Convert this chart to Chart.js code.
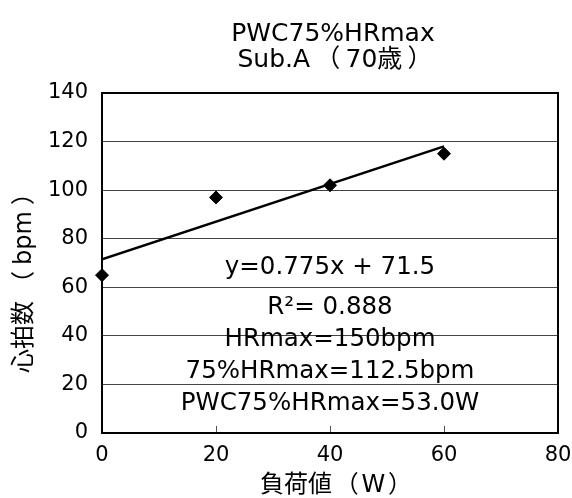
<!DOCTYPE html>
<html>
<head>
<meta charset="utf-8">
<script src="https://cdn.jsdelivr.net/npm/chart.js@4"></script>
<style>
  html, body { margin: 0; padding: 0; background: #fff; }
  #wrap { width: 572px; height: 498px; }
</style>
</head>
<body>
<div id="wrap"><canvas id="c" width="572" height="498"></canvas></div>
<script>
const loads = [0, 20, 40, 60];
const heartRates = [65, 97, 102, 115];
const slope = 0.775;
const intercept = 71.5;
const trendRange = [0, 60];
const titleLine1 = "PWC75%HRmax";
const titleLine2 = ["Sub.A", "（", "70歳", "）"];
const yTitle = ["心拍数", "（", "bpm", "）"];
const xTitle = ["負荷値", "（", "W", "）"];
const notes = ["y=0.775x + 71.5", "R²= 0.888", "HRmax=150bpm", "75%HRmax=112.5bpm", "PWC75%HRmax=53.0W"];
const noteX = 40;
const noteY = [68, 51.6, 38.4, 25.3, 12.1];

const FONT = "'DejaVu Sans', 'Noto Sans CJK JP', sans-serif";

// draw text pieces spread so the whole thing is `total` px wide, centred on cx
function drawParts(ctx, parts, cx, y, total) {
    const widths = parts.map(p => ctx.measureText(p).width);
    const sum = widths.reduce((s, w) => s + w, 0);
    const gap = parts.length > 1 ? Math.max(0, (total - sum) / (parts.length - 1)) : 0;
    let x = cx - (sum + gap * (parts.length - 1)) / 2;
    ctx.textAlign = "left";
    parts.forEach((p, i) => {
        ctx.fillText(p, x, y);
        x += widths[i] + gap;
    });
    ctx.textAlign = "center";
}

const boxPlugin = {
    id: "box",
    afterDatasetsDraw(chart) {
        const { ctx, chartArea: a, scales } = chart;
        ctx.save();
        // short inner ticks on x axis
        ctx.strokeStyle = "#555";
        ctx.lineWidth = 1;
        [20, 40, 60].forEach(v => {
            const px = Math.round(scales.x.getPixelForValue(v)) + 0.5;
            ctx.beginPath();
            ctx.moveTo(px, a.bottom);
            ctx.lineTo(px, a.bottom - 7);
            ctx.stroke();
        });
        ctx.strokeStyle = "#000";
        ctx.lineWidth = 2;
        ctx.strokeRect(a.left, a.top, a.right - a.left, a.bottom - a.top);

        ctx.fillStyle = "#000";
        ctx.textAlign = "center";
        ctx.textBaseline = "middle";
        ctx.font = "24.5px " + FONT;
        notes.forEach((t, i) => {
            ctx.fillText(t, scales.x.getPixelForValue(noteX), scales.y.getPixelForValue(noteY[i]));
        });
        ctx.font = "25px " + FONT;
        ctx.fillText(titleLine1, 333, 34);
        drawParts(ctx, titleLine2, 335, 60, 195);
        // x axis title
        ctx.font = "24px " + FONT;
        drawParts(ctx, xTitle, 336, 486, 152);
        // y axis title
        ctx.translate(25, 277);
        ctx.rotate(-Math.PI / 2);
        drawParts(ctx, yTitle, 0, 0, 192);
        ctx.restore();
    }
};

new Chart(document.getElementById("c"), {
    type: "scatter",
    data: {
        datasets: [
            {
                label: "HR",
                data: loads.map((x, i) => ({ x: x, y: heartRates[i] })),
                pointStyle: "rectRot",
                pointRadius: 6.5,
                backgroundColor: "#000",
                borderColor: "#000",
                showLine: false,
                clip: false,
            },
            {
                label: "trend",
                data: trendRange.map(x => ({ x: x, y: slope * x + intercept })),
                showLine: true,
                borderColor: "#000",
                borderWidth: 2.5,
                pointRadius: 0,
            },
        ],
    },
    options: {
        responsive: false,
        animation: false,
        layout: { padding: { top: 93, right: 14, left: 0, bottom: 0 } },
        plugins: {
            legend: { display: false },
            tooltip: { enabled: false },
        },
        scales: {
            x: {
                type: "linear",
                min: 0,
                max: 80,
                ticks: { stepSize: 20, color: "#000", font: { family: FONT, size: 21 }, padding: 10 },
                grid: { display: false, drawTicks: false },
                border: { color: "#000", width: 2 },
                afterFit(s) { s.height = 65; s.paddingLeft = 0; s.paddingRight = 0; },
            },
            y: {
                min: 0,
                max: 140,
                ticks: { stepSize: 20, color: "#000", font: { family: FONT, size: 21 }, padding: 14 },
                grid: { color: "#444", lineWidth: 1, drawTicks: false },
                border: { color: "#000", width: 2 },
                afterFit(s) { s.width = 102; s.paddingTop = 0; s.paddingBottom = 0; },
            },
        },
    },
    plugins: [boxPlugin],
});
</script>
</body>
</html>
